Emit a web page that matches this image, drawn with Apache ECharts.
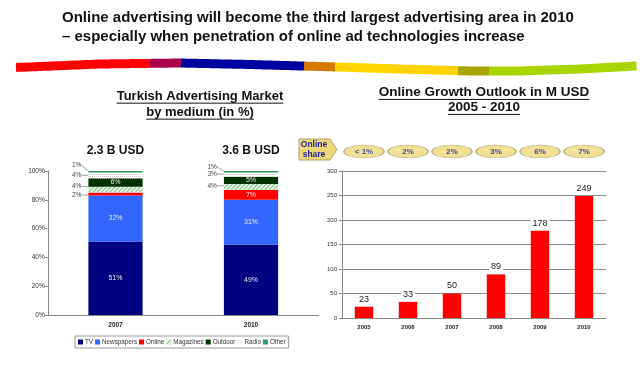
<!DOCTYPE html>
<html>
<head>
<meta charset="utf-8">
<script src="https://cdn.jsdelivr.net/npm/echarts@6/dist/echarts.min.js"></script>
<style>
html,body{margin:0;padding:0;background:#fff;}
#main{width:640px;height:377px;}
</style>
</head>
<body>
<div id="main"></div>
<script>
// ---- data ----
var mediums = ['TV', 'Newspapers', 'Online', 'Magazines', 'Outdoor', 'Radio', 'Other'];
var marketYears = ['2007', '2010'];
var share2007 = [51, 32, 2, 4, 6, 4, 1];
var share2010 = [49, 31, 7, 4, 5, 3, 1];
var marketSize = ['2.3 B USD', '3.6 B USD'];
var growthYears = ['2005', '2006', '2007', '2008', '2009', '2010'];
var onlineSpend = [23, 33, 50, 89, 178, 249];
var onlineShare = ['< 1%', '2%', '2%', '3%', '6%', '7%'];

// ---- styles ----
var FONT = 'Liberation Sans, Arial, sans-serif';
var mediumColors = {
    TV: '#000080', Newspapers: '#3366ff', Online: '#ff0000', Magazines: '#eef7ee',
    Outdoor: '#003300', Radio: '#ffffff', Other: '#339966'
};
var mediumDecals = {
    Magazines: {symbol: 'rect', color: '#77c077', dashArrayX: [1, 0], dashArrayY: [1, 1.5], rotation: -Math.PI / 4},
    Radio: {symbol: 'rect', color: '#c8c8c8', dashArrayX: [1, 1], dashArrayY: [1, 1]}
};
// vertical nudges for the small outside labels [2007, 2010]
var labelNudge = {Online: [1, 0], Magazines: [-3.5, -1], Radio: [0, -0.5], Other: [-6.5, -5]};

var mychart = echarts.init(document.getElementById('main'));

function textWidth(txt, font) {
    var c = document.createElement('canvas').getContext('2d');
    c.font = font;
    return c.measureText(txt).width;
}

var graphics = [];
function addText(txt, x, y, size, opts) {
    opts = opts || {};
    var font = (opts.weight || 'bold') + ' ' + size + 'px ' + FONT;
    graphics.push({
        type: 'text', x: x, y: y, silent: true,
        style: {
            text: txt, font: font, fill: opts.color || '#111',
            textAlign: opts.align || 'center', textVerticalAlign: 'middle'
        }
    });
    if (opts.underline) {
        var w = textWidth(txt, font);
        var x0 = opts.align === 'left' ? x : x - w / 2;
        graphics.push({
            type: 'line', silent: true,
            shape: {x1: x0, y1: y + size * 0.55, x2: x0 + w, y2: y + size * 0.55},
            style: {stroke: '#111', lineWidth: 1}
        });
    }
}

// headline
addText('Online advertising will become the third largest advertising area in 2010', 62, 18, 15, {align: 'left'});
addText('\u2013 especially when penetration of online ad technologies increase', 62, 37, 15, {align: 'left'});

// colour band
var bandPts = [[16, 67.5], [100, 64], [180, 63], [250, 64.5], [320, 66.5], [400, 69], [470, 71], [520, 71], [580, 69], [636, 66]];
var bandSegs = [[16, 150, '#ff0000'], [150, 181, '#a8004a'], [181, 304, '#0000a0'], [304, 335, '#d47a00'],
    [335, 458, '#ffd400'], [458, 489, '#a8a400'], [489, 636, '#a8d400']];
function bandY(x) {
    for (var i = 0; i < bandPts.length - 1; i++) {
        var a = bandPts[i], b = bandPts[i + 1];
        if (x <= b[0]) return a[1] + (b[1] - a[1]) * (x - a[0]) / (b[0] - a[0]);
    }
    return bandPts[bandPts.length - 1][1];
}
bandSegs.forEach(function (s) {
    var pts = [];
    for (var x = s[0]; x < s[1]; x += 5) pts.push([x, bandY(x)]);
    pts.push([s[1] + 0.5, bandY(s[1])]);
    graphics.push({
        type: 'polyline', silent: true,
        shape: {points: pts, smooth: 0.4},
        style: {stroke: s[2], lineWidth: 9, lineCap: 'butt', fill: null}
    });
});

// section titles
addText('Turkish Advertising Market', 200, 96, 13, {underline: true});
addText('by medium (in %)', 200, 112, 13, {underline: true});
addText('Online Growth Outlook in M USD', 484, 92, 13.5, {underline: true});
addText('2005 - 2010', 484, 107, 13.5, {underline: true});

// totals above bars
addText(marketSize[0], 115.5, 151, 12);
addText(marketSize[1], 251, 151, 12);

// "Online share" tag
graphics.push({
    type: 'polygon', silent: true,
    shape: {points: [[299, 139], [330, 139], [337, 149.5], [330, 160], [299, 160]]},
    style: {fill: '#ecd97a', stroke: '#a8a070', lineWidth: 1}
});
addText('Online', 314, 144.5, 8.5, {color: '#2222a0'});
addText('share', 314, 154.5, 8.5, {color: '#2222a0'});

// stacked series
var marketSeries = mediums.map(function (m, k) {
    var vals = [share2007[k], share2010[k]];
    return {
        name: m,
        type: 'bar',
        stack: 'market',
        xAxisIndex: 0, yAxisIndex: 0,
        barWidth: '40%',
        itemStyle: {color: mediumColors[m], decal: mediumDecals[m] || null},
        data: vals.map(function (v) {
            var inside = v >= 5;
            return {
                value: v,
                label: inside ? {
                    show: true, position: 'inside', color: '#e8e8e8', fontSize: 7, fontFamily: FONT,
                    formatter: '{c}%'
                } : {
                    show: true, position: 'left', distance: 7, color: '#444', fontSize: 6.5, fontFamily: FONT,
                    formatter: '{c}%'
                },
                labelLine: {show: !inside, lineStyle: {color: '#777', width: 0.7}}
            };
        }),
        labelLayout: function (p) {
            var n = labelNudge[m];
            return n ? {dy: n[p.dataIndex]} : {};
        }
    };
});

option = {
    animation: false,
    textStyle: {fontFamily: FONT},
    graphic: graphics,
    legend: {
        data: mediums,
        left: 75, top: 336,
        itemWidth: 5, itemHeight: 5, itemGap: 2,
        icon: 'rect',
        padding: [3, 3],
        borderColor: '#999', borderWidth: 1,
        textStyle: {fontSize: 6.3, color: '#333', padding: [0, 0, 0, -3]}
    },
    grid: [
        {left: 47.75, right: 321.25, top: 171, bottom: 62},
        {left: 342, right: 34, top: 171, bottom: 59},
        {left: 342, right: 34, top: 145, height: 13}
    ],
    xAxis: [
        {
            gridIndex: 0, type: 'category', data: marketYears,
            axisLine: {lineStyle: {color: '#888'}},
            axisTick: {length: 3, lineStyle: {color: '#888'}},
            axisLabel: {fontSize: 6.5, fontWeight: 'bold', color: '#222', margin: 7}
        },
        {
            gridIndex: 1, type: 'category', data: growthYears,
            axisLine: {lineStyle: {color: '#888'}},
            axisTick: {length: 3, lineStyle: {color: '#888'}},
            axisLabel: {fontSize: 6, fontWeight: 'bold', color: '#222', margin: 6}
        },
        {gridIndex: 2, type: 'category', data: growthYears, show: false}
    ],
    yAxis: [
        {
            gridIndex: 0, type: 'value', min: 0, max: 100, interval: 20,
            axisLine: {show: true, lineStyle: {color: '#888'}},
            axisTick: {show: true, length: 3, lineStyle: {color: '#888'}},
            splitLine: {show: false},
            axisLabel: {fontSize: 6.5, color: '#333', margin: 3, formatter: '{value}%'}
        },
        {
            gridIndex: 1, type: 'value', min: 0, max: 300, interval: 50,
            axisLine: {show: true, lineStyle: {color: '#888'}},
            axisTick: {show: true, length: 3, lineStyle: {color: '#888'}},
            splitLine: {lineStyle: {color: '#8a8a8a', width: 1}},
            axisLabel: {fontSize: 6, color: '#333', margin: 5}
        },
        {gridIndex: 2, type: 'value', min: 0, max: 1, show: false}
    ],
    series: marketSeries.concat([
        {
            name: 'Online growth',
            type: 'bar',
            xAxisIndex: 1, yAxisIndex: 1,
            barWidth: '42%',
            itemStyle: {color: '#ff0000'},
            label: {
                show: true, position: 'top', distance: 3, fontSize: 9, color: '#222',
                backgroundColor: '#fff', padding: [0, 2]
            },
            data: onlineSpend
        },
        {
            name: 'Online share',
            type: 'scatter',
            xAxisIndex: 2, yAxisIndex: 2,
            symbol: 'circle',
            symbolSize: [40, 13],
            itemStyle: {color: '#ecd97a', borderColor: '#a8a070', borderWidth: 1},
            label: {
                show: true, position: 'inside', fontSize: 8, fontWeight: 'bold', color: '#2222a0',
                formatter: function (p) { return onlineShare[p.dataIndex]; }
            },
            data: onlineShare.map(function () { return 0.5; })
        }
    ])
};
mychart.setOption(option);
</script>
</body>
</html>
